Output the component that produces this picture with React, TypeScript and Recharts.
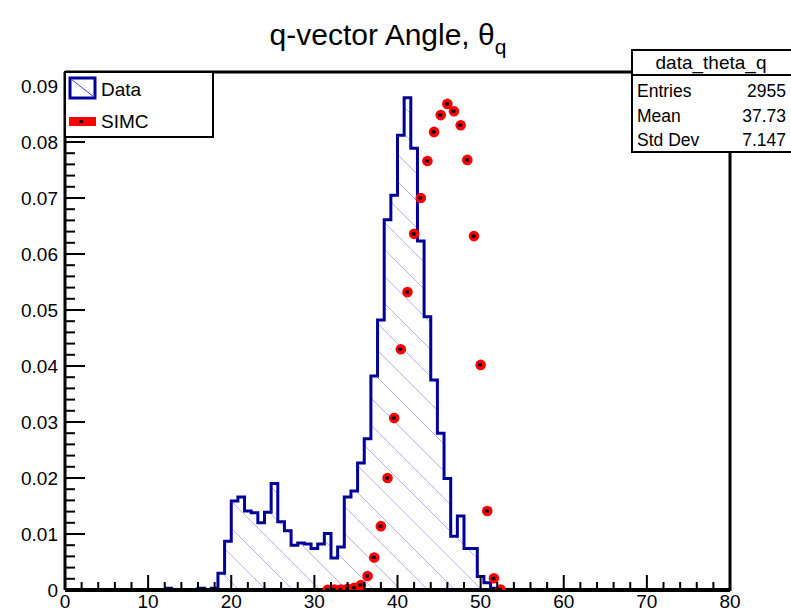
import React from 'react';
import { ComposedChart, Area, Scatter, XAxis, YAxis } from 'recharts';

// ROOT style histogram: 100 bins over 0..80, so 0.8 per bin
const BIN_WIDTH = 0.8;

// "Data" histogram, normalised, first bin starts at 12.0
const DATA_FIRST_EDGE = 12.0;
const dataValues = [
  0.0003, 0, 0, 0, 0, 0.0003, 0, 0.0003, 0.003, 0.0087,
  0.0159, 0.0166, 0.0141, 0.0138, 0.012, 0.0139, 0.019, 0.0122, 0.0106, 0.008,
  0.0084, 0.0082, 0.0074, 0.0082, 0.0101, 0.0057, 0.0077, 0.0166, 0.0177, 0.0227,
  0.027, 0.0382, 0.0482, 0.0661, 0.0705, 0.0812, 0.0879, 0.0789, 0.0623, 0.0488,
  0.0375, 0.028, 0.0199, 0.0096, 0.0132, 0.0074, 0.0074, 0.0024, 0.0013, 0.0003,
];

// SIMC points, first bin starts at 31.2
const SIMC_FIRST_EDGE = 31.2;
const simcValues = [
  0.00005, 0.0001, 0.0001, 0.0002, 0.0004, 0.0009, 0.0025, 0.0058, 0.0114, 0.02,
  0.0307, 0.043, 0.0532, 0.0636, 0.07, 0.0766, 0.0818, 0.0848, 0.0868, 0.0855,
  0.083, 0.0768, 0.0632, 0.0402, 0.0141, 0.0021, 0.0001,
];

const xMajorTicks = [0, 10, 20, 30, 40, 50, 60, 70, 80];
const yMajorTicks = [0, 0.01, 0.02, 0.03, 0.04, 0.05, 0.06, 0.07, 0.08, 0.09];
const statsTitle = 'data_theta_q';
const statsRows = [
  ['Entries', '2955'],
  ['Mean', '37.73'],
  ['Std Dev', '7.147'],
];

const FONT = '"Liberation Sans", Arial, Helvetica, sans-serif';
const BLUE = '#000099';

// 5 subdivisions per major tick
const xTicks: number[] = [];
for (let i = 0; i < xMajorTicks.length - 1; i++) {
  const step = (xMajorTicks[i + 1] - xMajorTicks[i]) / 5;
  for (let j = 0; j < 5; j++) xTicks.push(+(xMajorTicks[i] + j * step).toFixed(2));
}
xTicks.push(xMajorTicks[xMajorTicks.length - 1]);

const yTicks: number[] = [];
for (let i = 0; i < yMajorTicks.length; i++) {
  for (let j = 0; j < 5; j++) {
    const v = +(yMajorTicks[i] + j * 0.002).toFixed(4);
    if (v < 0.0925) yTicks.push(v);
  }
}

const histData = dataValues.map((v, i) => ({ x: +(DATA_FIRST_EDGE + i * BIN_WIDTH).toFixed(2), data: v }));
histData.push({ x: +(DATA_FIRST_EDGE + dataValues.length * BIN_WIDTH).toFixed(2), data: 0 });

const simcData = simcValues.map((v, i) => ({ x: +(SIMC_FIRST_EDGE + (i + 0.5) * BIN_WIDTH).toFixed(2), simc: v }));

const isMajor = (v: number, list: number[]) => list.some((m) => Math.abs(m - v) < 1e-6);

const XTick = (props: any) => {
  const { x, y, payload } = props;
  const major = isMajor(payload.value, xMajorTicks);
  return (
    <g>
      <line x1={x} y1={y} x2={x} y2={y - (major ? 15 : 8)} stroke="#000" strokeWidth={2} />
      {major && (
        <text x={x} y={y + 18} textAnchor="middle" fontFamily={FONT} fontSize={19} fill="#000">
          {payload.value}
        </text>
      )}
    </g>
  );
};

const YTick = (props: any) => {
  const { x, y, payload } = props;
  const major = isMajor(payload.value, yMajorTicks);
  return (
    <g>
      <line x1={x} y1={y} x2={x + (major ? 20 : 10)} y2={y} stroke="#000" strokeWidth={2} />
      {major && (
        <text x={x - 7} y={y + 7} textAnchor="end" fontFamily={FONT} fontSize={19} fill="#000">
          {payload.value === 0 ? '0' : payload.value.toFixed(2)}
        </text>
      )}
    </g>
  );
};

const SimcMarker = (props: any) => {
  const { cx, cy } = props;
  if (cx == null || cy == null) return null;
  return (
    <g>
      <circle cx={cx} cy={cy} r={5.3} fill="#ff0000" />
      <rect x={cx - 2.5} y={cy - 1.5} width={4} height={3} fill="#000" />
    </g>
  );
};

export default function App() {
  return (
    <div style={{ position: 'absolute', left: 0, top: 0, width: 791, height: 613, background: '#fff' }}>
      <ComposedChart width={791} height={613} margin={{ top: 72, right: 61, bottom: 0, left: 8 }}>
        <defs>
          <pattern id="hatch" patternUnits="userSpaceOnUse" width={27} height={27}>
            <path d="M0,0 L27,27 M-2,25 L2,29 M25,-2 L29,2" stroke="#b4b4ff" strokeWidth={1} />
          </pattern>
        </defs>
        <Area
          type="stepAfter"
          data={histData}
          dataKey="data"
          stroke={BLUE}
          strokeWidth={3}
          fill="url(#hatch)"
          fillOpacity={1}
          dot={false}
          activeDot={false}
          isAnimationActive={false}
        />
        <Scatter data={simcData} dataKey="simc" shape={<SimcMarker />} isAnimationActive={false} />
        <XAxis
          type="number"
          dataKey="x"
          domain={[0, 80]}
          ticks={xTicks}
          interval={0}
          tickSize={0}
          tickMargin={0}
          height={23}
          axisLine={{ stroke: '#000', strokeWidth: 4 }}
          tick={<XTick />}
          allowDataOverflow
        />
        <YAxis
          type="number"
          domain={[0, 0.0925]}
          ticks={yTicks}
          interval={0}
          tickSize={0}
          tickMargin={0}
          width={57}
          axisLine={{ stroke: '#000', strokeWidth: 3 }}
          tick={<YTick />}
          allowDataOverflow
        />
      </ComposedChart>

      <svg width={791} height={613} style={{ position: 'absolute', left: 0, top: 0, pointerEvents: 'none' }}>
        {/* frame */}
        <line x1={65} y1={72} x2={731} y2={72} stroke="#000" strokeWidth={3} />
        <line x1={730} y1={72} x2={730} y2={591} stroke="#000" strokeWidth={3} />

        {/* title */}
        <text x={388} y={45} textAnchor="middle" fontFamily={FONT} fontSize={30} fill="#000">
          q-vector Angle, θ
          <tspan fontSize={21} dy={9}>q</tspan>
        </text>

        {/* legend */}
        <rect x={65} y={72} width={148} height={65} fill="#fff" stroke="#000" strokeWidth={2} />
        <rect x={70} y={78} width={25} height={20} fill="#fff" stroke={BLUE} strokeWidth={3} />
        <line x1={71} y1={79} x2={94} y2={97} stroke="#4040ff" strokeWidth={1} />
        <text x={101} y={96} fontFamily={FONT} fontSize={19} fill="#000">Data</text>
        <rect x={69} y={117} width={27} height={9} fill="#ff0000" />
        <rect x={79} y={120} width={4} height={3} fill="#000" />
        <text x={101} y={128} fontFamily={FONT} fontSize={19} fill="#000">SIMC</text>

        {/* stats box */}
        <rect x={632} y={50} width={162} height={102} fill="#fff" stroke="#000" strokeWidth={2} />
        <line x1={632} y1={75} x2={794} y2={75} stroke="#000" strokeWidth={2} />
        <text x={711} y={69} textAnchor="middle" fontFamily={FONT} fontSize={19} fill="#000">{statsTitle}</text>
        {statsRows.map((r, i) => (
          <g key={r[0]}>
            <text x={637} y={97 + i * 24.5} fontFamily={FONT} fontSize={17.5} fill="#000">{r[0]}</text>
            <text x={786} y={97 + i * 24.5} textAnchor="end" fontFamily={FONT} fontSize={17.5} fill="#000">{r[1]}</text>
          </g>
        ))}
      </svg>
    </div>
  );
}
